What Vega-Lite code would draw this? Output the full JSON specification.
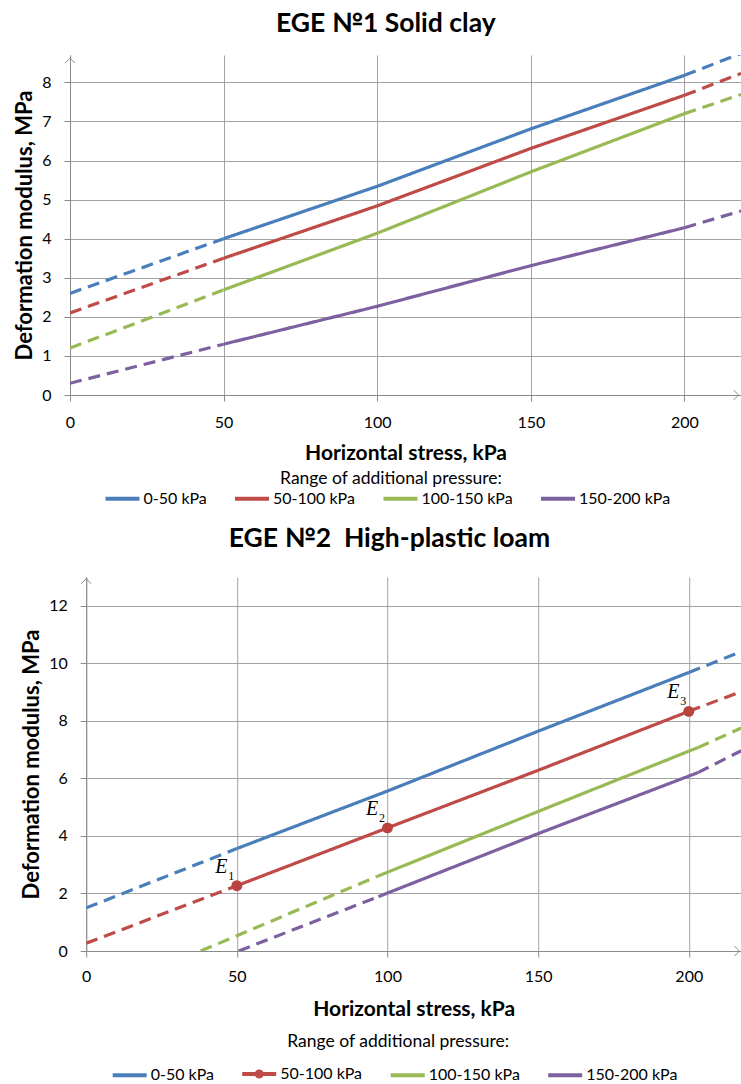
{
  "$schema": "https://vega.github.io/schema/vega-lite/v6.json",
  "padding": {"left": 13, "top": 11, "right": 0, "bottom": 0},
  "spacing": 19,
  "resolve": {
    "scale": {"color": "independent", "stroke": "independent", "shape": "independent", "strokeDash": "independent"},
    "legend": {"color": "independent", "stroke": "independent", "shape": "independent", "strokeDash": "independent"}
  },
  "config": {
    "view": {"stroke": null},
    "font": "Lato",
    "axis": {
      "gridColor": "#a3a3a3", "gridWidth": 1,
      "domainColor": "#8a8a8a", "tickColor": "#8a8a8a", "tickSize": 6,
      "labelFont": "Lato", "labelFontSize": 16, "labelColor": "#000", "labelPadding": 13, "labelFlush": false,
      "titleFont": "Lato", "titleFontSize": 21, "titleFontWeight": "bold", "titleColor": "#000"
    },
    "axisY": {"titleFontSize": 22},
    "title": {"font": "Lato", "fontSize": 26.5, "fontWeight": "bold", "color": "#000", "frame": "bounds", "anchor": "middle"},
    "legend": {
      "orient": "none", "direction": "horizontal",
      "titleFont": "Lato", "titleFontSize": 17.5, "titleFontWeight": "normal", "titleColor": "#000", "titleAnchor": "middle", "titleLimit": 500,
      "labelFont": "Lato", "labelFontSize": 16, "labelColor": "#000", "labelLimit": 300,
      "symbolStrokeWidth": 4, "symbolSize": 289, "symbolOpacity": 1, "labelOffset": 10.5, "columnPadding": 19.5
    }
  },
  "datasets": {
    "top": [
      {"r": "0-50 kPa", "seg": "L", "st": "dash", "x": 0, "y": 2.6},
      {"r": "0-50 kPa", "seg": "L", "st": "dash", "x": 50, "y": 4.0},
      {"r": "0-50 kPa", "seg": "S", "st": "solid", "x": 50, "y": 4.0},
      {"r": "0-50 kPa", "seg": "S", "st": "solid", "x": 100, "y": 5.34},
      {"r": "0-50 kPa", "seg": "S", "st": "solid", "x": 150, "y": 6.81},
      {"r": "0-50 kPa", "seg": "S", "st": "solid", "x": 200, "y": 8.18},
      {"r": "0-50 kPa", "seg": "R", "st": "dash", "x": 200, "y": 8.18},
      {"r": "0-50 kPa", "seg": "R", "st": "dash", "x": 218.4, "y": 8.74},
      {"r": "50-100 kPa", "seg": "L", "st": "dash", "x": 0, "y": 2.1},
      {"r": "50-100 kPa", "seg": "L", "st": "dash", "x": 50, "y": 3.5},
      {"r": "50-100 kPa", "seg": "S", "st": "solid", "x": 50, "y": 3.5},
      {"r": "50-100 kPa", "seg": "S", "st": "solid", "x": 100, "y": 4.84},
      {"r": "50-100 kPa", "seg": "S", "st": "solid", "x": 150, "y": 6.31},
      {"r": "50-100 kPa", "seg": "S", "st": "solid", "x": 200, "y": 7.67},
      {"r": "50-100 kPa", "seg": "R", "st": "dash", "x": 200, "y": 7.67},
      {"r": "50-100 kPa", "seg": "R", "st": "dash", "x": 218.4, "y": 8.23},
      {"r": "100-150 kPa", "seg": "L", "st": "dash", "x": 0, "y": 1.2},
      {"r": "100-150 kPa", "seg": "L", "st": "dash", "x": 50, "y": 2.69},
      {"r": "100-150 kPa", "seg": "S", "st": "solid", "x": 50, "y": 2.69},
      {"r": "100-150 kPa", "seg": "S", "st": "solid", "x": 100, "y": 4.14},
      {"r": "100-150 kPa", "seg": "S", "st": "solid", "x": 150, "y": 5.71},
      {"r": "100-150 kPa", "seg": "S", "st": "solid", "x": 200, "y": 7.2},
      {"r": "100-150 kPa", "seg": "R", "st": "dash", "x": 200, "y": 7.2},
      {"r": "100-150 kPa", "seg": "R", "st": "dash", "x": 218.4, "y": 7.69},
      {"r": "150-200 kPa", "seg": "L", "st": "dash", "x": 0, "y": 0.3},
      {"r": "150-200 kPa", "seg": "L", "st": "dash", "x": 50, "y": 1.3},
      {"r": "150-200 kPa", "seg": "S", "st": "solid", "x": 50, "y": 1.3},
      {"r": "150-200 kPa", "seg": "S", "st": "solid", "x": 100, "y": 2.27},
      {"r": "150-200 kPa", "seg": "S", "st": "solid", "x": 150, "y": 3.31},
      {"r": "150-200 kPa", "seg": "S", "st": "solid", "x": 200, "y": 4.28},
      {"r": "150-200 kPa", "seg": "R", "st": "dash", "x": 200, "y": 4.28},
      {"r": "150-200 kPa", "seg": "R", "st": "dash", "x": 218.4, "y": 4.71}
    ],
    "bot": [
      {"r": "0-50 kPa", "seg": "L", "st": "dash", "x": 0, "y": 1.5},
      {"r": "0-50 kPa", "seg": "L", "st": "dash", "x": 50, "y": 3.56},
      {"r": "0-50 kPa", "seg": "S", "st": "solid", "x": 50, "y": 3.56},
      {"r": "0-50 kPa", "seg": "S", "st": "solid", "x": 100, "y": 5.56},
      {"r": "0-50 kPa", "seg": "S", "st": "solid", "x": 150, "y": 7.64},
      {"r": "0-50 kPa", "seg": "S", "st": "solid", "x": 200, "y": 9.68},
      {"r": "0-50 kPa", "seg": "R", "st": "dash", "x": 200, "y": 9.68},
      {"r": "0-50 kPa", "seg": "R", "st": "dash", "x": 217.4, "y": 10.41},
      {"r": "50-100 kPa", "seg": "L", "st": "dash", "x": 0, "y": 0.27},
      {"r": "50-100 kPa", "seg": "L", "st": "dash", "x": 50, "y": 2.27},
      {"r": "50-100 kPa", "seg": "S", "st": "solid", "x": 50, "y": 2.27},
      {"r": "50-100 kPa", "seg": "S", "st": "solid", "x": 100, "y": 4.28},
      {"r": "50-100 kPa", "seg": "S", "st": "solid", "x": 150, "y": 6.28},
      {"r": "50-100 kPa", "seg": "S", "st": "solid", "x": 200, "y": 8.33},
      {"r": "50-100 kPa", "seg": "R", "st": "dash", "x": 200, "y": 8.33},
      {"r": "50-100 kPa", "seg": "R", "st": "dash", "x": 217.4, "y": 9.02},
      {"r": "100-150 kPa", "seg": "L", "st": "dash", "x": 38, "y": 0},
      {"r": "100-150 kPa", "seg": "L", "st": "dash", "x": 96.5, "y": 2.59},
      {"r": "100-150 kPa", "seg": "S", "st": "solid", "x": 96.5, "y": 2.59},
      {"r": "100-150 kPa", "seg": "S", "st": "solid", "x": 150, "y": 4.85},
      {"r": "100-150 kPa", "seg": "S", "st": "solid", "x": 203, "y": 7.07},
      {"r": "100-150 kPa", "seg": "R", "st": "dash", "x": 203, "y": 7.07},
      {"r": "100-150 kPa", "seg": "R", "st": "dash", "x": 217.4, "y": 7.75},
      {"r": "150-200 kPa", "seg": "L", "st": "dash", "x": 50.6, "y": 0},
      {"r": "150-200 kPa", "seg": "L", "st": "dash", "x": 97, "y": 1.89},
      {"r": "150-200 kPa", "seg": "S", "st": "solid", "x": 97, "y": 1.89},
      {"r": "150-200 kPa", "seg": "S", "st": "solid", "x": 150, "y": 4.08},
      {"r": "150-200 kPa", "seg": "S", "st": "solid", "x": 203, "y": 6.2},
      {"r": "150-200 kPa", "seg": "R", "st": "dash", "x": 203, "y": 6.2},
      {"r": "150-200 kPa", "seg": "R", "st": "dash", "x": 217.4, "y": 6.96}
    ],
    "epts": [
      {"x": 50, "y": 2.27, "e": "E", "sub": "1"},
      {"x": 100, "y": 4.28, "e": "E", "sub": "2"},
      {"x": 200, "y": 8.33, "e": "E", "sub": "3"}
    ],
    "spacer": [{"t": ""}],
    "arrTopY": [{"x": 0, "y": 8.62}],
    "arrTopX": [{"x": 217.6, "y": 0}],
    "arrBotY": [{"x": 0, "y": 12.94}],
    "arrBotX": [{"x": 216.8, "y": 0}]
  },
  "vconcat": [
    {
      "resolve": {
        "scale": {"color": "independent", "stroke": "independent", "shape": "independent", "strokeDash": "independent"},
        "legend": {"color": "independent", "stroke": "independent", "shape": "independent", "strokeDash": "independent"}
      },
      "hconcat": [
        {
          "width": 671,
          "height": 340,
          "title": {"text": "EGE №1 Solid clay", "offset": 15.5},
          "layer": [
            {
              "data": {"name": "top"},
              "mark": {"type": "line", "strokeWidth": 3.2, "clip": true},
              "encoding": {
                "x": {"field": "x", "type": "quantitative",
                  "scale": {"domain": [0, 218.4], "nice": false, "zero": false},
                  "axis": {"values": [0, 50, 100, 150, 200], "title": "Horizontal stress, kPa", "grid": true, "labelPadding": 13, "titlePadding": 12}},
                "y": {"field": "y", "type": "quantitative",
                  "scale": {"domain": [0, 8.7], "nice": false},
                  "axis": {"values": [0, 1, 2, 3, 4, 5, 6, 7, 8], "title": "Deformation modulus, MPa", "grid": true, "titlePadding": 5}},
                "color": {"field": "r", "type": "nominal",
                  "scale": {"domain": ["150-200 kPa", "100-150 kPa", "50-100 kPa", "0-50 kPa"], "range": ["#7d60a0", "#98b954", "#be4b48", "#4a7ebb"]},
                  "legend": null},
                "strokeDash": {"field": "st", "type": "nominal",
                  "scale": {"domain": ["solid", "dash"], "range": [[1, 0], [12, 7]]}, "legend": null},
                "detail": {"field": "seg", "type": "nominal"}
              }
            },
            {
              "data": {"name": "top"},
              "mark": {"type": "point", "filled": false, "opacity": 0, "size": 289, "strokeWidth": 4},
              "encoding": {
                "x": {"field": "x", "type": "quantitative"},
                "y": {"field": "y", "type": "quantitative"},
                "stroke": {"field": "r", "type": "nominal",
                  "scale": {"domain": ["0-50 kPa", "50-100 kPa", "100-150 kPa", "150-200 kPa"], "range": ["#4a7ebb", "#be4b48", "#98b954", "#7d60a0"]},
                  "legend": {"title": "Range of additional pressure:", "legendX": 42, "legendY": 415, "titlePadding": 0.5}},
                "shape": {"field": "r", "type": "nominal",
                  "scale": {"domain": ["0-50 kPa", "50-100 kPa", "100-150 kPa", "150-200 kPa"],
                    "range": ["M-2,0H2", "M-2,0H2", "M-2,0H2", "M-2,0H2"]},
                  "legend": {"title": "Range of additional pressure:", "legendX": 42, "legendY": 415, "titlePadding": 0.5}}
              }
            },
            {
              "data": {"name": "arrTopY"},
              "mark": {"type": "point", "shape": "M-1,1L0,0L1,1", "filled": false, "size": 100, "stroke": "#8a8a8a", "strokeWidth": 1, "opacity": 1, "clip": false},
              "encoding": {"x": {"field": "x", "type": "quantitative"}, "y": {"field": "y", "type": "quantitative"}}
            },
            {
              "data": {"name": "arrTopX"},
              "mark": {"type": "point", "shape": "M-1,-1L0,0L-1,1", "filled": false, "size": 100, "stroke": "#8a8a8a", "strokeWidth": 1, "opacity": 1, "clip": false},
              "encoding": {"x": {"field": "x", "type": "quantitative"}, "y": {"field": "y", "type": "quantitative"}}
            }
          ]
        }
      ]
    },
    {
      "bounds": "flush",
      "spacing": 15.2,
      "resolve": {
        "scale": {"color": "independent", "stroke": "independent", "shape": "independent", "strokeDash": "independent"},
        "legend": {"color": "independent", "stroke": "independent", "shape": "independent", "strokeDash": "independent"}
      },
      "hconcat": [
        {
          "width": 1,
          "height": 1,
          "data": {"name": "spacer"},
          "mark": {"type": "text"},
          "encoding": {"text": {"field": "t", "type": "nominal"}}
        },
        {
          "width": 655,
          "height": 374,
          "title": {"text": "EGE №2\u00a0\u00a0High-plastic loam", "offset": 24},
          "layer": [
            {
              "data": {"name": "bot"},
              "mark": {"type": "line", "strokeWidth": 3.2, "clip": true},
              "encoding": {
                "x": {"field": "x", "type": "quantitative",
                  "scale": {"domain": [0, 217.4], "nice": false, "zero": false},
                  "axis": {"values": [0, 50, 100, 150, 200], "title": "Horizontal stress, kPa", "grid": true, "labelPadding": 11, "titlePadding": 14}},
                "y": {"field": "y", "type": "quantitative",
                  "scale": {"domain": [0, 13], "nice": false},
                  "axis": {"values": [0, 2, 4, 6, 8, 10, 12], "title": "Deformation modulus, MPa", "grid": true, "titlePadding": 5}},
                "color": {"field": "r", "type": "nominal",
                  "scale": {"domain": ["150-200 kPa", "100-150 kPa", "50-100 kPa", "0-50 kPa"], "range": ["#7d60a0", "#98b954", "#be4b48", "#4a7ebb"]},
                  "legend": null},
                "strokeDash": {"field": "st", "type": "nominal",
                  "scale": {"domain": ["solid", "dash"], "range": [[1, 0], [12, 7]]}, "legend": null},
                "detail": {"field": "seg", "type": "nominal"}
              }
            },
            {
              "data": {"name": "bot"},
              "mark": {"type": "point", "filled": false, "opacity": 0, "size": 289, "strokeWidth": 4},
              "encoding": {
                "x": {"field": "x", "type": "quantitative"},
                "y": {"field": "y", "type": "quantitative"},
                "stroke": {"field": "r", "type": "nominal",
                  "scale": {"domain": ["0-50 kPa", "50-100 kPa", "100-150 kPa", "150-200 kPa"], "range": ["#4a7ebb", "#be4b48", "#98b954", "#7d60a0"]},
                  "legend": {"title": "Range of additional pressure:", "legendX": 33, "legendY": 456, "titlePadding": 12.5}},
                "shape": {"field": "r", "type": "nominal",
                  "scale": {"domain": ["0-50 kPa", "50-100 kPa", "100-150 kPa", "150-200 kPa"],
                    "range": ["M-2,0H2", "M-2,0H2M0.3,0A0.3,0.3,0,1,1,-0.3,0A0.3,0.3,0,1,1,0.3,0Z", "M-2,0H2", "M-2,0H2"]},
                  "legend": {"title": "Range of additional pressure:", "legendX": 33, "legendY": 456, "titlePadding": 12.5}}
              }
            },
            {
              "data": {"name": "epts"},
              "mark": {"type": "circle", "size": 120, "color": "#b8433f", "opacity": 1},
              "encoding": {"x": {"field": "x", "type": "quantitative"}, "y": {"field": "y", "type": "quantitative"}}
            },
            {
              "data": {"name": "epts"},
              "mark": {"type": "text", "font": "Liberation Serif", "fontStyle": "italic", "fontSize": 20, "color": "#000", "dx": -15.5, "dy": -19, "align": "center", "baseline": "middle"},
              "encoding": {"x": {"field": "x", "type": "quantitative"}, "y": {"field": "y", "type": "quantitative"}, "text": {"field": "e"}}
            },
            {
              "data": {"name": "epts"},
              "mark": {"type": "text", "font": "Liberation Serif", "fontSize": 12, "color": "#000", "dx": -5.5, "dy": -10, "align": "center", "baseline": "middle"},
              "encoding": {"x": {"field": "x", "type": "quantitative"}, "y": {"field": "y", "type": "quantitative"}, "text": {"field": "sub"}}
            },
            {
              "data": {"name": "arrBotY"},
              "mark": {"type": "point", "shape": "M-1,1L0,0L1,1", "filled": false, "size": 100, "stroke": "#8a8a8a", "strokeWidth": 1, "opacity": 1, "clip": false},
              "encoding": {"x": {"field": "x", "type": "quantitative"}, "y": {"field": "y", "type": "quantitative"}}
            },
            {
              "data": {"name": "arrBotX"},
              "mark": {"type": "point", "shape": "M-1,-1L0,0L-1,1", "filled": false, "size": 100, "stroke": "#8a8a8a", "strokeWidth": 1, "opacity": 1, "clip": false},
              "encoding": {"x": {"field": "x", "type": "quantitative"}, "y": {"field": "y", "type": "quantitative"}}
            }
          ]
        }
      ]
    }
  ]
}
